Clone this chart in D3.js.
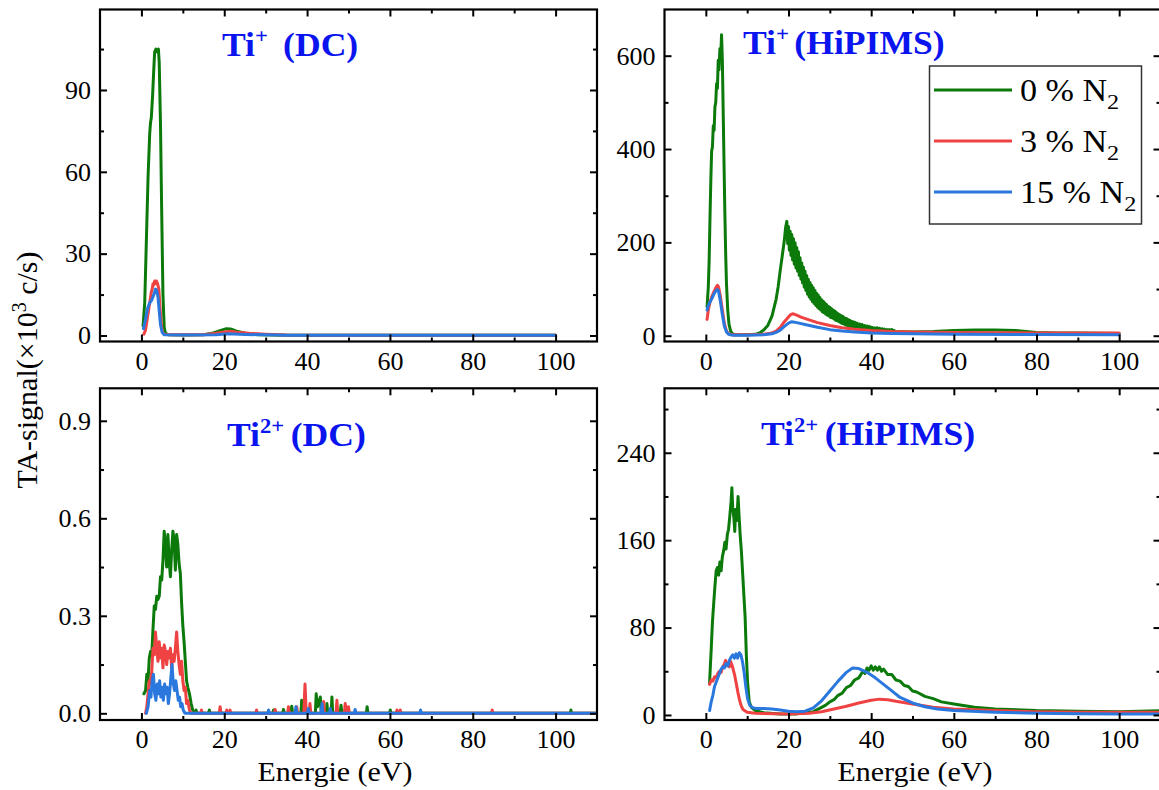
<!DOCTYPE html>
<html><head><meta charset="utf-8">
<script src="https://cdn.jsdelivr.net/npm/d3@7"></script>
<style>
body{margin:0;background:#fff}
svg{display:block}
text{font-family:"Liberation Serif","Times New Roman",serif;fill:#000}
</style>
</head><body>
<svg id="chart" width="1159" height="790"></svg>
<script>
// ---------------- DATA ----------------
const seriesLabels = ["0 % N", "3 % N", "15 % N"];   // subscript "2" added
const seriesColors = ["#0b7a0b", "#ef4242", "#2a78dd"];
const energyTicks = [0, 20, 40, 60, 80, 100];
const energyMinor = [10, 30, 50, 70, 90];

// Ti+ (DC)   [energy eV, signal 10^3 c/s]
const tiPlusDC_0 = [[0.4,3.5],[0.8,12],[1.2,35],[1.6,58],[2.0,74],[2.2,78],[2.4,80],[2.7,88],[3.0,98],[3.2,104],[3.5,105],[3.8,104],[4.1,105],[4.3,100],[4.6,78],[4.9,45],[5.2,15],[5.5,3],[5.8,0.8],[6.5,0.3],[10,0.2],[15,0.3],[17,0.8],[19,1.8],[20.5,2.5],[21.5,2.4],[23,1.6],[25,0.8],[28,0.3],[35,0.1],[50,0.05],[100,0.05]];
const tiPlusDC_3 = [[0.6,0.5],[1.0,2],[1.5,7],[2.0,12],[2.4,16],[2.6,17],[2.8,19],[3.0,18.5],[3.2,20],[3.4,19],[3.6,20],[3.9,19],[4.2,17],[4.5,10],[4.8,4],[5.1,1.2],[5.5,0.5],[7,0.3],[15,0.3],[18,0.8],[20,1.3],[21.5,1.6],[23,1.2],[26,0.8],[30,0.5],[35,0.2],[45,0.1],[100,0.05]];
const tiPlusDC_15 = [[0.5,2.5],[1.0,6],[1.5,10],[2.0,12],[2.5,13],[3.0,15],[3.4,17],[3.7,16.5],[4.0,14],[4.3,9],[4.6,4],[5.0,1.2],[5.5,0.3],[10,0.2],[18,0.3],[21,0.6],[25,0.4],[35,0.1],[100,0.05]];

// Ti+ (HiPIMS)
const tiPlusHi_0 = [[0.3,62],[0.6,105],[0.8,160],[1.0,250],[1.2,330],[1.4,395],[1.6,405],[1.8,450],[2.0,440],[2.2,490],[2.4,500],[2.6,540],[2.8,530],[3.0,590],[3.2,570],[3.4,615],[3.6,600],[3.8,645],[4.0,590],[4.2,480],[4.4,370],[4.6,265],[4.8,175],[5.0,110],[5.3,55],[5.6,25],[6.0,10],[6.5,4],[7.0,2],[10,2],[12,3],[13,6],[14,12],[15,22],[16,42],[17,78],[17.5,105],[18,140],[18.5,172],[19.0,205],[19.3,232],
[19.6,245],[19.8,197],[20.0,234],[20.2,183],[20.4,224],[20.6,172],[20.8,217],[21.0,162],[21.2,208],[21.4,153],[21.6,199],[21.8,145],[22.0,189],[22.2,138],[22.4,180],[22.6,129],[22.8,167],[23.0,121],[23.2,156],[23.4,113],[23.6,147],[23.8,104],[24.0,138],[24.2,97],[24.4,129],[24.6,89],[24.8,121],[25.0,83],[25.2,114],[25.4,78],[25.6,108],[25.8,73],[26.0,103],[26.2,69],[26.4,97],[26.6,65],[26.8,91],[27.0,61],[27.2,87],[27.4,58],[27.6,82],[27.8,55],[28.0,77],[28.2,51],[28.4,74],[28.6,49],[28.8,70],[29.0,46],[29.2,67],[29.4,44],[29.6,63],[29.8,42],[30.0,61],[30.2,39],[30.4,58],[30.6,38],[30.8,55],[31.0,36],[31.2,53],[31.4,33],[31.6,50],[31.8,32],[32.0,47],[32.2,30],[32.4,45],[32.6,28],[32.8,43],[33.0,26],[33.2,41],[33.4,25],[33.6,38],[33.8,23],[34.0,37],[34.2,22],[34.4,35],[34.6,21],[34.8,33],[35.0,20],[35.2,31],[35.4,18],[35.6,30],[35.8,17],[36.0,29],[36.3,17],[36.6,27],[36.9,16],[37.2,25],[37.5,14],[37.8,24],[38.1,13],[38.4,22],[38.7,12],[39.0,21],[39.3,11],[39.6,20],[39.9,10],[40.2,18],[40.5,10],[40.8,17],[41.1,9],[41.4,17],[41.7,8],[42.0,16],[42.3,9],[42.6,15],[42.9,8],[43.2,14],[43.5,8],[43.8,13],[44.1,7],[44.4,13],[44.7,7],[45.0,13],
[46,9],[50,8],[55,9],[60,11],[65,12],[70,12],[75,11],[80,7],[85,6],[90,6],[100,5]];
const tiPlusHi_3 = [[0.3,35],[0.6,55],[1.0,72],[1.5,85],[2.0,95],[2.5,104],[2.8,108],[3.1,104],[3.5,85],[4.0,55],[4.5,25],[5.0,10],[5.5,4],[6.5,2],[10,2],[14,3],[16,6],[17,10],[18,18],[19,30],[20,40],[20.5,45],[21,47],[22,44],[23,40],[25,34],[27,28],[30,22],[33,17],[36,14],[40,11],[45,9],[50,8],[60,7],[70,6.5],[80,6],[100,6]];
const tiPlusHi_15 = [[0.3,55],[0.6,65],[1.0,72],[1.5,80],[2.0,90],[2.5,97],[2.8,99],[3.1,95],[3.5,75],[4.0,45],[4.5,20],[5.0,8],[5.5,3],[6.5,1],[10,1],[14,2],[16,4],[17,7],[18,12],[19,20],[20,27],[20.8,30],[22,28],[24,24],[27,18],[30,13],[33,10],[36,8],[40,6],[45,5],[50,4],[60,3],[80,2.5],[100,2]];

// Ti2+ (DC)
const ti2DC_0 = [[0.6,0.06],[1.0,0.07],[1.3,0.12],[1.6,0.1],[1.9,0.17],[2.2,0.19],[2.5,0.18],[2.8,0.26],[3.1,0.33],[3.4,0.32],[3.7,0.36],[4.0,0.35],[4.3,0.36],[4.6,0.42],[4.9,0.41],[5.2,0.47],[5.5,0.56],[5.8,0.52],[6.1,0.45],[6.4,0.55],[6.7,0.47],[7.0,0.42],[7.3,0.5],[7.6,0.56],[7.9,0.53],[8.2,0.44],[8.5,0.55],[8.8,0.52],[9.1,0.46],[9.4,0.43],[9.7,0.34],[10.0,0.27],[10.3,0.22],[10.6,0.16],[10.9,0.1],[11.2,0.08],[11.6,0.06],[12.0,0.03],[12.4,0.01],[13.0,0],[13.2,0.01],[13.4,0],[16.2,0],[16.4,0.01],[16.6,0],[31.7,0],[31.9,0.01],[32.1,0],[34.1,0],[34.3,0.012],[34.5,0],[36.1,0],[36.3,0.022],[36.5,0],[38.5,0],[38.7,0.04],[38.9,0],[42.0,0],[42.2,0.06],[42.5,0.02],[43.2,0.05],[43.4,0],[44.6,0],[44.8,0.03],[45.0,0],[45.8,0],[46.0,0.05],[46.2,0],[48.0,0],[48.2,0.025],[48.4,0],[54.3,0],[54.5,0.02],[54.7,0],[59.9,0],[60.1,0.01],[60.3,0],[103.5,0],[103.7,0.01],[103.9,0],[110,0]];
const ti2DC_3 = [[1.0,0],[1.3,0.02],[1.6,0.06],[1.9,0.1],[2.2,0.09],[2.5,0.13],[2.8,0.2],[3.1,0.18],[3.4,0.25],[3.7,0.2],[4.0,0.16],[4.3,0.22],[4.6,0.17],[4.9,0.2],[5.2,0.14],[5.5,0.21],[5.8,0.19],[6.1,0.15],[6.4,0.19],[6.7,0.17],[7.0,0.2],[7.3,0.14],[7.6,0.18],[7.9,0.16],[8.2,0.2],[8.5,0.25],[8.8,0.19],[9.1,0.15],[9.4,0.12],[9.7,0.16],[10.0,0.1],[10.3,0.07],[10.6,0.08],[10.9,0.03],[11.2,0.04],[11.6,0.01],[12.0,0],[14.3,0],[14.5,0.01],[14.7,0],[18.8,0],[19.0,0.02],[19.2,0],[20.4,0],[20.6,0.01],[20.8,0],[21.2,0],[21.4,0.01],[21.6,0],[27.6,0],[27.8,0.01],[28.0,0],[32.1,0],[32.3,0.012],[32.5,0],[35.3,0],[35.5,0.02],[35.7,0],[37.3,0],[37.5,0.02],[37.7,0],[39.2,0],[39.5,0.09],[39.8,0],[40.5,0],[40.7,0.03],[40.9,0],[43.8,0],[44.0,0.036],[44.2,0],[47.0,0],[47.2,0.04],[47.4,0],[49.0,0],[49.2,0.03],[49.6,0],[50.0,0.02],[50.2,0],[61.5,0],[61.7,0.01],[61.9,0],[62.3,0],[62.5,0.01],[62.7,0],[84.5,0],[84.7,0.01],[84.9,0],[110,0]];
const ti2DC_15 = [[1.2,0],[1.6,0.02],[2.0,0.07],[2.3,0.05],[2.6,0.1],[2.9,0.12],[3.2,0.06],[3.5,0.04],[3.8,0.09],[4.1,0.06],[4.4,0.1],[4.7,0.05],[5.0,0.08],[5.3,0.04],[5.6,0.09],[5.9,0.06],[6.2,0.08],[6.5,0.03],[6.8,0.06],[7.1,0.11],[7.4,0.15],[7.7,0.09],[8.0,0.07],[8.3,0.1],[8.6,0.07],[8.9,0.04],[9.2,0.05],[9.5,0.02],[9.8,0.03],[10.1,0.01],[10.5,0],[30.5,0],[30.7,0.01],[30.9,0],[37.1,0],[37.3,0.02],[37.5,0],[40.1,0],[40.3,0.015],[40.5,0],[43.4,0],[43.6,0.03],[43.8,0],[45.4,0],[45.6,0.015],[45.8,0],[51.4,0],[51.6,0.012],[51.8,0],[67.2,0],[67.4,0.01],[67.6,0],[110,0]];

// Ti2+ (HiPIMS)
const ti2Hi_0 = [[0.9,29],[1.1,45],[1.3,60],[1.6,85],[1.9,102],[2.2,118],[2.5,132],[2.8,135],[3.1,128],[3.4,140],[3.7,132],[4.0,145],[4.3,150],[4.6,158],[4.9,152],[5.2,165],[5.5,170],[5.8,182],[6.1,195],[6.3,208],[6.5,190],[6.8,180],[7.0,168],[7.2,188],[7.5,178],[7.8,200],[8.0,185],[8.3,165],[8.6,150],[8.9,130],[9.2,110],[9.5,90],[9.8,55],[10.1,30],[10.5,12],[11,7],[12,4],[14,2],[18,1],[22,1],[24,2],[26,3],[28,7],[29,9],[30,12],[31,14],[32,18],[33,20],[34,25],[35,27],[36,32],[37,34],[38,40],[38.5,38],[39,43],[39.5,41],[40,45],[40.5,41],[41,44],[41.5,41],[42,44],[42.5,40],[43,42],[44,37],[45,37],[46,32],[47,31],[48,27],[49,26],[50,22],[51,21],[53,17],[55,15],[57,12],[60,10],[65,7],[70,5.5],[80,4],[90,3.5],[100,3],[110,4]];
const ti2Hi_3 = [[0.9,28],[1.3,32],[1.7,31],[2.1,35],[2.5,34],[2.9,38],[3.3,40],[3.7,39],[4.1,44],[4.5,47],[4.8,50],[5.1,45],[5.4,48],[5.7,44],[6.0,49],[6.3,46],[6.6,42],[7.0,36],[7.4,28],[7.8,20],[8.2,13],[8.6,8],[9.0,5],[10,2.5],[12,1.5],[20,1],[25,1.5],[28,3],[31,5.5],[34,8],[37,11],[40,13.5],[42,14.5],[44,14],[46,12.5],[50,10],[55,7],[60,5.5],[70,4],[80,3],[90,2.5],[100,2.5],[110,2.5]];
const ti2Hi_15 = [[0.9,4],[1.3,12],[1.7,18],[2.1,26],[2.5,30],[2.9,34],[3.3,38],[3.7,42],[4.1,44],[4.5,43],[4.9,47],[5.3,45],[5.7,50],[6.1,53],[6.5,55],[6.9,52],[7.3,56],[7.7,52],[8.1,57],[8.5,55],[8.9,48],[9.3,38],[9.7,25],[10.1,15],[10.6,9],[11.2,7],[12,6],[14,6],[16,5.5],[18,4.5],[20,3.5],[22,3],[24,3.5],[26,6.5],[28,13],[30,22],[32,31],[34,39],[35.5,43],[37,42.5],[39,39],[41,34],[43,28],[45,22],[47,16],[50,11],[53,7.5],[56,5.5],[60,4],[70,2.5],[80,1.5],[90,1.2],[100,1],[110,1]];

// axis tick values
const yTicksTiPlusDC = [0, 30, 60, 90],        yMinorTiPlusDC = [15, 45, 75, 105];
const yTicksTiPlusHi = [0, 200, 400, 600],     yMinorTiPlusHi = [100, 300, 500];
const yTicksTi2DC = [0, 0.3, 0.6, 0.9],        yMinorTi2DC = [0.15, 0.45, 0.75];
const yTicksTi2Hi = [0, 80, 160, 240],         yMinorTi2Hi = [40, 120, 200, 280];

// ---------------- LAYOUT ----------------
const svg = d3.select("#chart");
const panels = [
  {x0:100, x1:597, y0:9.5, y1:341.5, ydom:[-2.2,119.5], ticks:yTicksTiPlusDC, minor:yMinorTiPlusDC, fmt:d3.format("d"),
   series:[tiPlusDC_0, tiPlusDC_3, tiPlusDC_15], title:{ion:"Ti", sup:"+", rest:"(DC)", gap:14, x:222, y:56}},
  {x0:664.5, x1:1160.5, y0:9.5, y1:341.5, ydom:[-12.4,699], ticks:yTicksTiPlusHi, minor:yMinorTiPlusHi, fmt:d3.format("d"),
   series:[tiPlusHi_0, tiPlusHi_3, tiPlusHi_15], title:{ion:"Ti", sup:"+", rest:"(HiPIMS)", gap:5, x:743, y:54}, legend:true},
  {x0:100, x1:597, y0:388.3, y1:720, ydom:[-0.0206,1.0], ticks:yTicksTi2DC, minor:yMinorTi2DC, fmt:d3.format(".1f"),
   series:[ti2DC_0, ti2DC_3, ti2DC_15], title:{ion:"Ti", sup:"2+", rest:"(DC)", gap:6, x:227, y:446}, xlabel:335},
  {x0:664.5, x1:1160.5, y0:388.3, y1:720, ydom:[-4.6,299], ticks:yTicksTi2Hi, minor:yMinorTi2Hi, fmt:d3.format("d"),
   series:[ti2Hi_0, ti2Hi_3, ti2Hi_15], title:{ion:"Ti", sup:"2+", rest:"(HiPIMS)", gap:6, x:761, y:444.5}, xlabel:915}
];

const MAJ = 7, MIN = 4, FS = 26;
const TITLE_BLUE = "#0a14ee";

panels.forEach((p, i) => {
  const x = d3.scaleLinear().domain([-10, 110]).range([p.x0, p.x1]);
  const y = d3.scaleLinear().domain(p.ydom).range([p.y1, p.y0]);
  const g = svg.append("g");

  const clipId = "clip" + i;
  svg.append("clipPath").attr("id", clipId).append("rect")
    .attr("x", p.x0).attr("y", p.y0).attr("width", p.x1 - p.x0).attr("height", p.y1 - p.y0);

  // series
  const line = d3.line().x(d => x(d[0])).y(d => y(d[1]));
  const sg = g.append("g").attr("clip-path", `url(#${clipId})`);
  p.series.forEach((s, k) => {
    sg.append("path").datum(s).attr("d", line)
      .attr("fill", "none").attr("stroke", seriesColors[k])
      .attr("stroke-width", 3).attr("stroke-linejoin", "round").attr("stroke-linecap", "round");
  });

  // axes (ticks inward)
  const style = a => {
    a.select(".domain").remove();
    a.selectAll(".tick line").attr("stroke", "#000").attr("stroke-width", 2);
    a.selectAll(".tick text").attr("font-size", FS).attr("font-family", '"Liberation Serif",serif').attr("fill", "#000");
  };
  g.append("g").attr("transform", `translate(0,${p.y1})`)
    .call(d3.axisBottom(x).tickValues(energyTicks).tickSize(-MAJ).tickPadding(10).tickFormat(d3.format("d"))).call(style);
  g.append("g").attr("transform", `translate(0,${p.y1})`)
    .call(d3.axisBottom(x).tickValues(energyMinor).tickSize(-MIN).tickFormat("")).call(style);
  g.append("g").attr("transform", `translate(0,${p.y0})`)
    .call(d3.axisTop(x).tickValues(energyTicks).tickSize(-MAJ).tickFormat("")).call(style);
  g.append("g").attr("transform", `translate(0,${p.y0})`)
    .call(d3.axisTop(x).tickValues(energyMinor).tickSize(-MIN).tickFormat("")).call(style);
  g.append("g").attr("transform", `translate(${p.x0},0)`)
    .call(d3.axisLeft(y).tickValues(p.ticks).tickSize(-MAJ).tickPadding(9).tickFormat(p.fmt)).call(style);
  g.append("g").attr("transform", `translate(${p.x0},0)`)
    .call(d3.axisLeft(y).tickValues(p.minor).tickSize(-MIN).tickFormat("")).call(style);
  g.append("g").attr("transform", `translate(${p.x1},0)`)
    .call(d3.axisRight(y).tickValues(p.ticks).tickSize(-MAJ).tickFormat("")).call(style);
  g.append("g").attr("transform", `translate(${p.x1},0)`)
    .call(d3.axisRight(y).tickValues(p.minor).tickSize(-MIN).tickFormat("")).call(style);

  // frame
  g.append("rect").attr("x", p.x0).attr("y", p.y0).attr("width", p.x1 - p.x0).attr("height", p.y1 - p.y0)
    .attr("fill", "none").attr("stroke", "#000").attr("stroke-width", 2.2);

  // title (slightly widened like the source figure)
  const t = g.append("g").attr("transform", `translate(${p.title.x},${p.title.y}) scale(1.08,1)`)
    .append("text").attr("x", 0).attr("y", 0)
    .attr("font-size", 33).attr("font-weight", "bold").style("fill", TITLE_BLUE);
  t.append("tspan").text(p.title.ion).style("fill", TITLE_BLUE);
  t.append("tspan").text(p.title.sup).attr("font-size", 21).attr("dy", -13).style("fill", TITLE_BLUE);
  t.append("tspan").text(p.title.rest).attr("dy", 13).attr("dx", p.title.gap).style("fill", TITLE_BLUE);

  if (p.xlabel) {
    g.append("g").attr("transform", `translate(${p.xlabel},781) scale(1.07,1)`)
      .append("text").attr("x", 0).attr("y", 0)
      .attr("text-anchor", "middle").attr("font-size", 28).text("Energie (eV)");
  }

  if (p.legend) {
    const lg = g.append("g");
    lg.append("rect").attr("x", 929.5).attr("y", 66).attr("width", 212).attr("height", 158)
      .attr("fill", "#fff").attr("stroke", "#333").attr("stroke-width", 1.5);
    seriesLabels.forEach((lab, k) => {
      const ry = 90 + k * 51;
      lg.append("line").attr("x1", 934).attr("x2", 1012).attr("y1", ry).attr("y2", ry)
        .attr("stroke", seriesColors[k]).attr("stroke-width", 3);
      const tx = lg.append("g").attr("transform", `translate(1020,${ry + 11}) scale(1.1,1)`)
        .append("text").attr("x", 0).attr("y", 0).attr("font-size", 31);
      tx.append("tspan").text(lab);
      tx.append("tspan").text("2").attr("font-size", 22).attr("dy", 8);
    });
  }
});

// shared y-axis label
const yl = svg.append("text").attr("transform", "translate(37,370) rotate(-90)")
  .attr("text-anchor", "middle").attr("font-size", 30);
yl.append("tspan").text("TA-signal(×10");
yl.append("tspan").text("3").attr("font-size", 20).attr("dy", -11);
yl.append("tspan").text(" c/s)").attr("dy", 11);
</script>
</body></html>
